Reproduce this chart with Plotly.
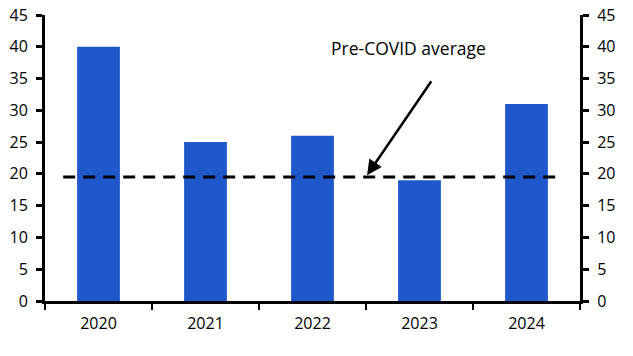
import plotly.graph_objects as go

years = ["2020", "2021", "2022", "2023", "2024"]
values = [40, 25, 26, 19, 31]
pre_covid_avg = 19.5
y_ticks = list(range(0, 46, 5))
annotation_text = "Pre-COVID average"

bar_color = "#1F58CA"
font_family = "Open Sans, Noto Sans, sans-serif"

fig = go.Figure()
fig.add_trace(go.Bar(x=years, y=values, marker_color=bar_color, width=0.4,
                     marker_line_width=0, showlegend=False, hoverinfo="skip"))
# invisible trace to activate right axis
fig.add_trace(go.Scatter(x=years, y=values, yaxis="y2", mode="markers",
                         marker=dict(opacity=0), showlegend=False, hoverinfo="skip"))

fig.add_shape(type="line", xref="x", yref="y", x0=-0.33, x1=4.29,
              y0=pre_covid_avg, y1=pre_covid_avg,
              line=dict(color="black", width=3, dash="12px,8px"))

fig.add_annotation(x=2.51, y=pre_covid_avg + 0.3, ax=3.12, ay=34.8,
                   xref="x", yref="y", axref="x", ayref="y",
                   text="", showarrow=True, arrowhead=2, arrowsize=1.2,
                   arrowwidth=2.5, arrowcolor="black")
fig.add_annotation(x=2.9, y=39.8, xref="x", yref="y", text=annotation_text,
                   showarrow=False, font=dict(size=17.5, color="black", family=font_family))

axis_common = dict(range=[0, 45], tickvals=y_ticks, showgrid=False, zeroline=False,
                   showline=True, linecolor="black", linewidth=3,
                   ticks="outside", ticklen=6, tickwidth=3, tickcolor="black",
                   ticklabelstandoff=5,
                   tickfont=dict(size=16, color="black", family=font_family),
                   automargin=False, fixedrange=True)

fig.update_layout(
    width=633, height=356,
    margin=dict(l=45, r=53, t=15, b=55),
    plot_bgcolor="white", paper_bgcolor="white",
    bargap=0.6,
    xaxis=dict(type="category", showgrid=False, showline=True, linecolor="black",
               linewidth=3, ticks="outside", ticklen=6, tickwidth=2.5, tickcolor="black",
               tickson="boundaries", ticklabelstandoff=6, automargin=False,
               fixedrange=True,
               tickfont=dict(size=16, color="black", family=font_family)),
    yaxis=dict(side="left", **axis_common),
    yaxis2=dict(side="right", overlaying="y", **axis_common),
)

fig.write_html("out.html", config={"displayModeBar": False, "staticPlot": True},
               post_script="document.body.style.margin='0';document.body.style.overflow='hidden';")
